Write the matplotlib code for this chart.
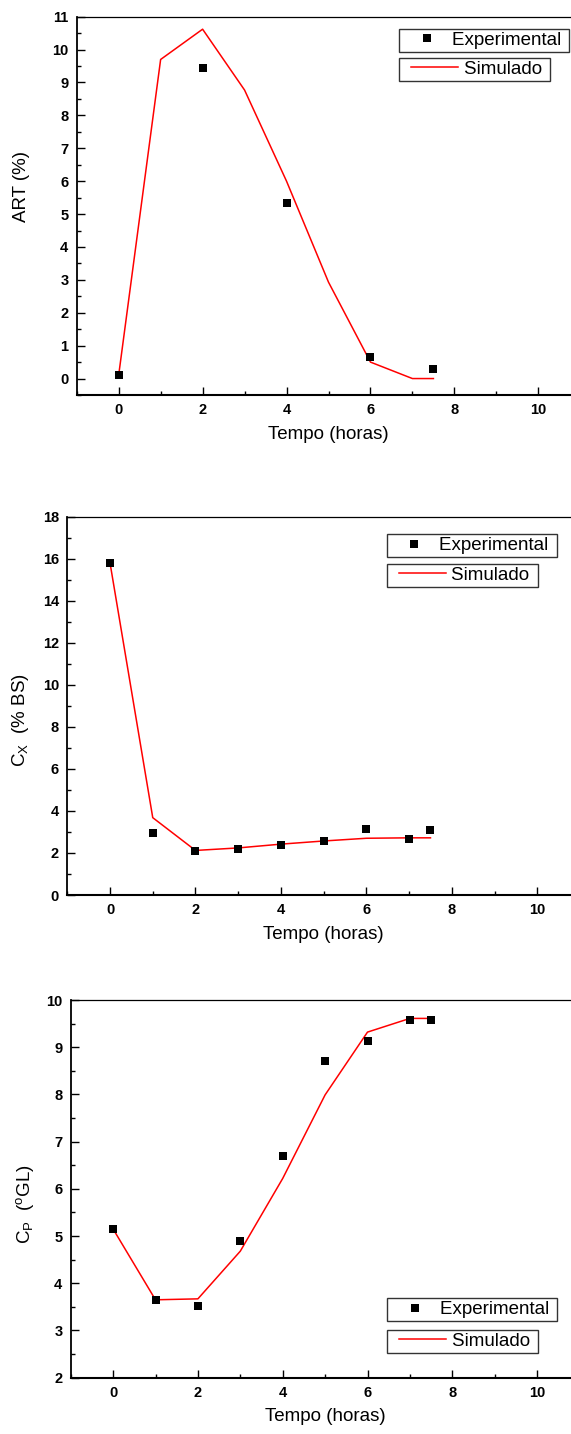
import numpy as np
import matplotlib
matplotlib.use("Agg")
import matplotlib.pyplot as plt
from matplotlib.ticker import MultipleLocator
from matplotlib.legend_handler import HandlerLine2D

plt.rcParams['font.family'] = ['Liberation Sans', 'DejaVu Sans']
plt.rcParams['mathtext.fontset'] = 'custom'
plt.rcParams['mathtext.rm'] = 'Liberation Sans'
plt.rcParams['mathtext.it'] = 'Liberation Sans:italic'

# tempo das amostras (horas)
t_exp_art = [0, 2, 4, 6, 7.5]
t_all = [0, 1, 2, 3, 4, 5, 6, 7, 7.5]

# ART (%)
art_exp = [0.1, 9.45, 5.35, 0.65, 0.3]
art_sim = [0.1, 9.7, 10.62, 8.77, 6.0, 2.93, 0.5, 0.0, 0.0]

# Cx (% BS)
cx_exp = [15.8, 2.95, 2.1, 2.2, 2.4, 2.57, 3.15, 2.65, 3.08]
cx_sim = [15.8, 3.68, 2.12, 2.24, 2.42, 2.57, 2.7, 2.72, 2.72]

# Cp (oGL)
cp_exp = [5.15, 3.65, 3.51, 4.89, 6.69, 8.71, 9.13, 9.58, 9.58]
cp_sim = [5.15, 3.65, 3.67, 4.68, 6.22, 7.99, 9.32, 9.61, 9.61]

W, H = 571, 1434
fig = plt.figure(figsize=(W / 100, H / 100), dpi=100)


def make_axes(left, right, top, bottom):
    # box given in pixels of the final picture
    return fig.add_axes([left / W, 1 - bottom / H, (right - left) / W, (bottom - top) / H])


def style_axes(ax, ylim, ymajor, yminor, ylabel, lab_x, lab_y):
    ax.set_xlim(-1, 11)
    ax.set_ylim(*ylim)
    ax.xaxis.set_major_locator(MultipleLocator(2))
    ax.xaxis.set_minor_locator(MultipleLocator(1))
    ax.yaxis.set_major_locator(MultipleLocator(ymajor))
    ax.yaxis.set_minor_locator(MultipleLocator(yminor))
    ax.tick_params(which='both', direction='in', top=False, right=False, labelsize=10.5, pad=6)
    ax.tick_params(which='major', length=6, width=1)
    ax.tick_params(which='minor', length=3, width=1)
    for lbl in ax.get_xticklabels() + ax.get_yticklabels():
        lbl.set_fontweight('bold')
    ax.spines['right'].set_visible(False)
    ax.spines['top'].set_linewidth(0.9)
    ax.spines['left'].set_linewidth(1.3)
    ax.spines['bottom'].set_linewidth(1.5)
    ax.set_xlabel("Tempo (horas)", fontsize=13.5, labelpad=6)
    ax.set_ylabel(ylabel, fontsize=13.5)
    ax.yaxis.set_label_coords(lab_x, lab_y)
    ax.yaxis.label.set_verticalalignment('center')


def add_legends(ax, exp_line, sim_line, px, py_exp, py_sim):
    leg1 = ax.legend(handles=[exp_line], labels=['Experimental '], loc='upper left',
                     bbox_to_anchor=(px / W, 1 - py_exp / H),
                     bbox_transform=fig.transFigure, borderaxespad=0, borderpad=0.15,
                     handlelength=2.0, handletextpad=0.65, fontsize=13.5, fancybox=False,
                     edgecolor='#333333', framealpha=1,
                     handler_map={exp_line: HandlerLine2D(xpad=0.66)})
    leg1.get_frame().set_linewidth(1.0)
    ax.add_artist(leg1)
    leg2 = ax.legend(handles=[sim_line], labels=['Simulado '], loc='upper left',
                     bbox_to_anchor=(px / W, 1 - py_sim / H),
                     bbox_transform=fig.transFigure, borderaxespad=0, borderpad=0.15,
                     handlelength=3.0, handletextpad=0.3, fontsize=13.5, fancybox=False,
                     edgecolor='#333333', framealpha=1,
                     handler_map={sim_line: HandlerLine2D(xpad=0.48)})
    leg2.get_frame().set_linewidth(1.0)


def plot_panel(ax, t_e, y_e, t_s, y_s):
    exp_line, = ax.plot(t_e, y_e, 's', color='black', ms=5.5, mew=0, label='Experimental', zorder=3)
    sim_line, = ax.plot(t_s, y_s, '-', color='red', lw=1.1, label='Simulado', zorder=2)
    return exp_line, sim_line


# painel 1 - ART
ax1 = make_axes(76.7, 580.3, 16.7, 395)
e, s = plot_panel(ax1, t_exp_art, art_exp, t_all, art_sim)
style_axes(ax1, (-0.5, 11), 1, 0.5, "ART (%)", -0.109, 0.55)
add_legends(ax1, e, s, 399, 29, 58)

# painel 2 - Cx
ax2 = make_axes(67.3, 580, 516.7, 895)
e, s = plot_panel(ax2, t_all, cx_exp, t_all, cx_sim)
style_axes(ax2, (0, 18), 2, 1, "C$_\\mathrm{X}$  (% BS)", -0.091, 0.463)
add_legends(ax2, e, s, 386.7, 534.3, 564)

# painel 3 - Cp
ax3 = make_axes(70.7, 579.5, 1000, 1377.7)
e, s = plot_panel(ax3, t_all, cp_exp, t_all, cp_sim)
style_axes(ax3, (2, 10), 1, 0.5, "C$_\\mathrm{P}$  ($^\\mathrm{o}$GL)", -0.09, 0.46)
add_legends(ax3, e, s, 387.3, 1298.3, 1330)

fig.savefig("out.png", dpi=100)
